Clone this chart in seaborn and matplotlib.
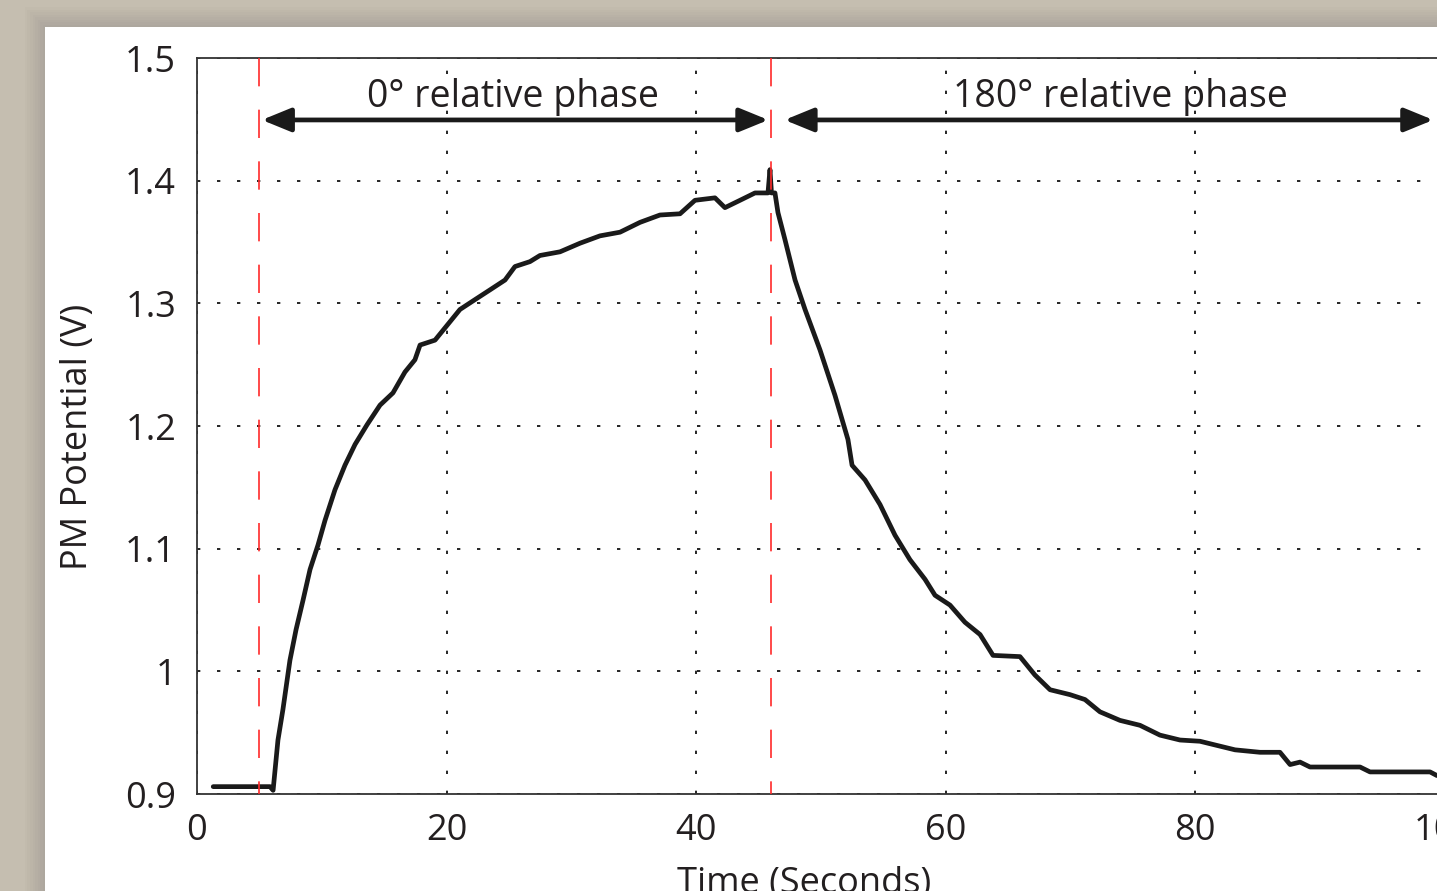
import numpy as np
import pandas as pd
import matplotlib
matplotlib.use("Agg")
import matplotlib.pyplot as plt
import seaborn as sns
from matplotlib.patches import Rectangle, FancyArrowPatch

# ---- data ----
time_s = [1.3, 5.85, 6.1, 6.49, 6.89, 7.45, 7.94, 8.50, 9.06, 9.70, 10.26, 11.06, 11.86,
          12.67, 13.63, 14.67, 15.71, 16.67, 17.47, 17.88, 19.08, 20.04, 21.08, 22.28,
          23.49, 24.69, 25.49, 26.69, 27.49, 29.10, 30.70, 32.30, 33.91, 35.51, 37.11,
          38.72, 39.92, 41.52, 42.32, 43.53, 44.73, 45.77, 45.93, 46.05, 46.33, 46.57,
          47.13, 47.94, 48.74, 49.94, 51.14, 52.18, 52.51, 53.55, 54.75, 55.95, 57.15,
          58.36, 59.16, 60.36, 61.56, 62.77, 63.81, 65.97, 67.17, 68.38, 69.98, 71.18,
          72.38, 73.99, 75.59, 77.19, 78.80, 80.40, 81.60, 83.21, 85.21, 86.81, 87.62,
          88.42, 89.22, 93.23, 94.03, 98.84, 99.40]
pm_volts = [0.906, 0.906, 0.903, 0.944, 0.969, 1.009, 1.034, 1.058, 1.083, 1.103, 1.123,
            1.148, 1.168, 1.185, 1.201, 1.217, 1.227, 1.244, 1.254, 1.266, 1.270, 1.282,
            1.295, 1.303, 1.311, 1.319, 1.330, 1.334, 1.339, 1.342, 1.349, 1.355, 1.358,
            1.366, 1.372, 1.373, 1.384, 1.386, 1.378, 1.384, 1.390, 1.390, 1.409, 1.390,
            1.390, 1.374, 1.352, 1.319, 1.295, 1.262, 1.225, 1.189, 1.168, 1.156, 1.136,
            1.111, 1.091, 1.075, 1.062, 1.054, 1.040, 1.030, 1.013, 1.012, 0.997, 0.985,
            0.981, 0.977, 0.967, 0.960, 0.956, 0.948, 0.944, 0.943, 0.940, 0.936, 0.934,
            0.934, 0.924, 0.926, 0.922, 0.922, 0.918, 0.918, 0.915]
phase_switch = [5, 46]
phase_labels = ["0° relative phase", "180° relative phase"]
phase_label_x = [25.3, 74.0]
phase_arrows = [(5.2, 45.8), (47.1, 99.1)]
x_ticks = [0, 20, 40, 60, 80, 100]
y_ticks = [0.9, 1.0, 1.1, 1.2, 1.3, 1.4, 1.5]
y_ticklabels = ["0.9", "1", "1.1", "1.2", "1.3", "1.4", "1.5"]

df = pd.DataFrame({"Time": time_s, "PM": pm_volts})

sns.set_style("white")
plt.rcParams["font.family"] = ["Open Sans", "DejaVu Sans"]
ink = "#231f20"

fig = plt.figure(figsize=(14.37, 8.91), dpi=100)
fig.patch.set_facecolor("#c5beb0")

# soft shadow + white panel
for i in range(8):
    d = (8 - i) * 2.5
    fig.patches.append(Rectangle(((45 - d) / 1437, 0), 1, 1 - (27 - d) / 891,
                                 transform=fig.transFigure, facecolor="black",
                                 alpha=0.012, edgecolor="none", zorder=0))
fig.patches.append(Rectangle((45 / 1437, 0), 1, 1 - 27 / 891, transform=fig.transFigure,
                             facecolor="white", edgecolor="none", zorder=0))

ax = fig.add_axes([197 / 1437, 1 - 794 / 891, 1247.5 / 1437, 736 / 891])
ax.set_zorder(2)
ax.set_facecolor("white")

sns.lineplot(data=df, x="Time", y="PM", ax=ax, color="#1a1a1a", linewidth=3.4,
             estimator=None, sort=False, zorder=5)

ax.set_xlim(0, 100)
ax.set_ylim(0.9, 1.5)
ax.set_xticks(x_ticks)
ax.set_yticks(y_ticks)
ax.set_yticklabels(y_ticklabels)
ax.tick_params(direction="in", length=7, width=1.1, color=ink, labelsize=26,
               labelcolor=ink, pad=14)
ax.tick_params(axis="y", pad=15)
ax.grid(True, color="black", linestyle=(0, (2, 10)), linewidth=1.2)
for s in ax.spines.values():
    s.set_color("#333333")
    s.set_linewidth(1.3)

ax.set_xlabel("Time (Seconds)", fontsize=26, color=ink)
ax.set_ylabel("PM Potential (V)", fontsize=26, color=ink)
ax.xaxis.set_label_coords(0.487, -0.0985)
ax.yaxis.set_label_coords(-0.081, 0.485)

for xs in phase_switch:
    ax.plot([xs, xs], [1.5, 0.9], color="#ff2a2a", linewidth=1.2,
            linestyle=(0, (17, 14)), zorder=6)

for (x0, x1) in phase_arrows:
    arr = FancyArrowPatch((x0, 1.4495), (x1, 1.4495),
                          arrowstyle="<|-|>,head_length=1.1,head_width=0.45",
                          mutation_scale=16, color="#1a1a1a", linewidth=3.4,
                          shrinkA=0, shrinkB=0, zorder=7)
    ax.add_patch(arr)

for lx, lab in zip(phase_label_x, phase_labels):
    ax.text(lx, 1.468, lab, ha="center", va="center", fontsize=27, color=ink, zorder=8)

fig.savefig("out.png", dpi=100, facecolor=fig.get_facecolor())
